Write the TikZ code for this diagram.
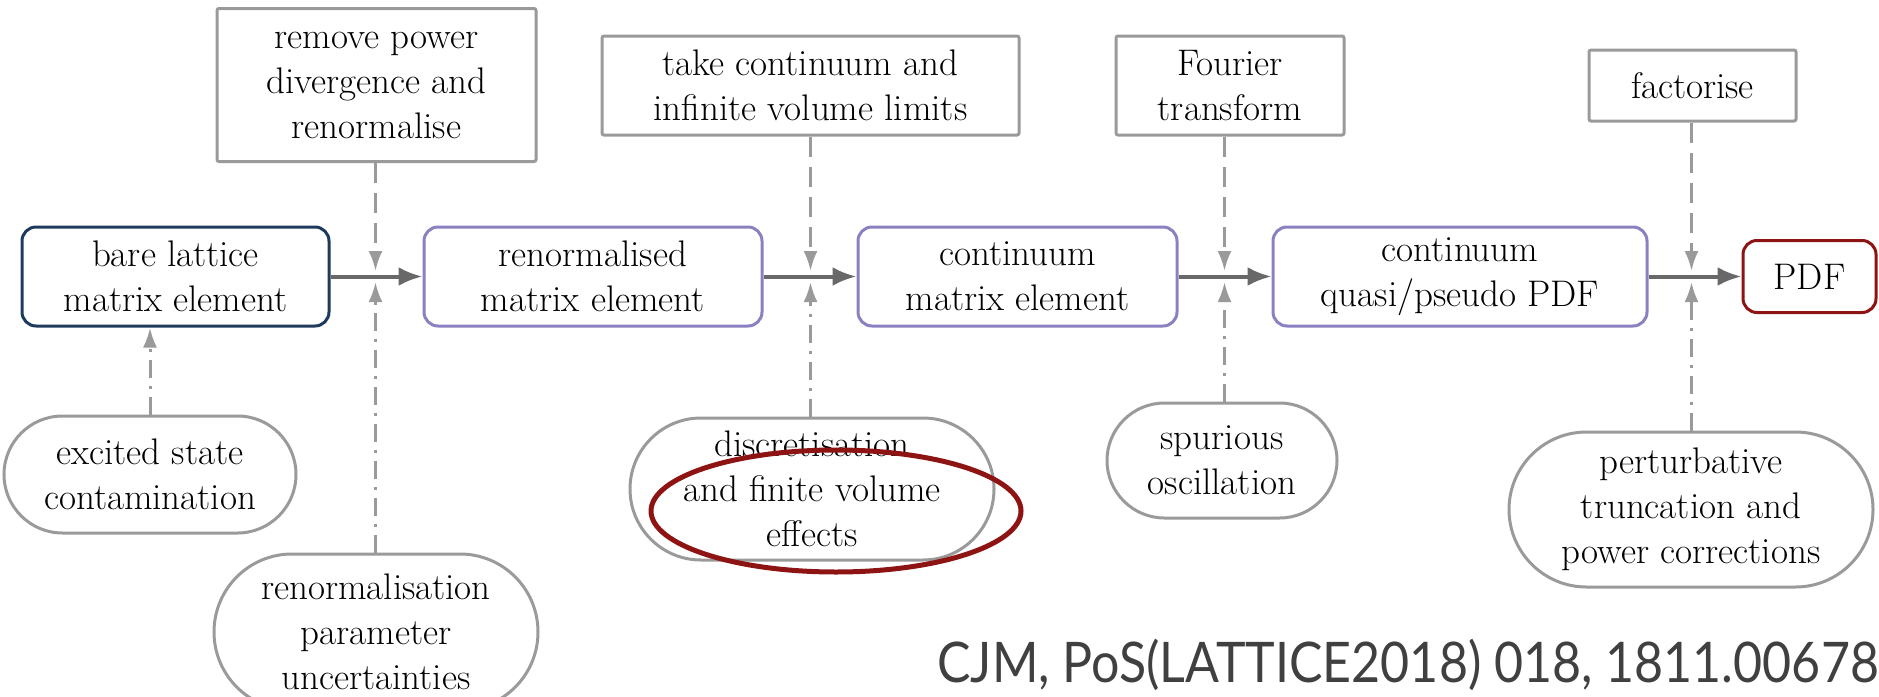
\documentclass[tikz,border=0pt]{standalone}
\usepackage{fontspec}
\newfontfamily\citefont{Lato}
\usepackage{tikz}
\usetikzlibrary{positioning, arrows.meta, shapes.misc, shapes.geometric}

\definecolor{barecol}{HTML}{1E3A5C}
\definecolor{stagecol}{HTML}{8C80C0}
\definecolor{pdfcol}{HTML}{8E1414}
\definecolor{sidegray}{HTML}{9A9A9A}
\definecolor{flowgray}{HTML}{686868}
\definecolor{citegray}{HTML}{404040}

\begin{document}
\begin{tikzpicture}[x=0.5pt, y=-0.5pt,
    every node/.style={font=\fontsize{18.5}{22.5}\selectfont, align=center, inner sep=2pt},
    stage/.style={draw=stagecol, line width=1.5pt, rounded corners=7pt,
                  minimum height=49.5pt},
    task/.style={draw=sidegray, line width=1.5pt, rounded corners=1pt},
    error/.style={draw=sidegray, line width=1.5pt, rounded rectangle},
    flow/.style={-{Latex[length=12pt, width=9.5pt]}, draw=flowgray, line width=2pt},
    fix/.style={-{Latex[length=10pt, width=7pt]}, draw=sidegray, line width=1.5pt,
                dash pattern=on 10pt off 5pt},
    err/.style={-{Latex[length=10pt, width=7pt]}, draw=sidegray, line width=1.5pt,
                dash pattern=on 9pt off 4pt on 1.5pt off 4pt}
  ]
  \useasboundingbox (0,0) rectangle (1879,696);

  % main chain
  \node[stage, draw=barecol, minimum width=153.5pt] (bare) at (175.5,276.5)
    {bare lattice\\matrix element};
  \node[stage, minimum width=169pt] (renorm) at (593,276.5)
    {renormalised\\matrix element};
  \node[stage, minimum width=159.5pt] (contme) at (1017.5,276.5)
    {continuum\\matrix element};
  \node[stage, minimum width=187pt] (quasi) at (1460,276.5)
    {continuum\\quasi/pseudo PDF};
  \node[stage, draw=pdfcol, minimum width=66.5pt, minimum height=36pt] (pdf) at (1809.5,276.5)
    {PDF};

  % junctions on the chain
  \coordinate (j1t) at (375.5,271);  \coordinate (j1b) at (375.5,282);
  \coordinate (j2t) at (810.5,271);  \coordinate (j2b) at (810.5,282);
  \coordinate (j3t) at (1224.5,271); \coordinate (j3b) at (1224.5,282);
  \coordinate (j4t) at (1691.5,271); \coordinate (j4b) at (1691.5,282);

  % steps taken
  \node[task, minimum width=159.5pt, minimum height=76.5pt] (power) at (376.5,85)
    {remove power\\divergence and\\renormalise};
  \node[task, minimum width=208.5pt, minimum height=49.5pt] (limits) at (810.5,85.5)
    {take continuum and\\infinite volume limits};
  \node[task, minimum width=114pt, minimum height=49.5pt] (fourier) at (1230,85.5)
    {Fourier\\transform};
  \node[task, minimum width=103.5pt, minimum height=35.5pt] (factor) at (1692.5,85.5)
    {factorise};

  % sources of error
  \node[error, minimum width=150pt, minimum height=58.5pt] (excited) at (150,474.5)
    {excited state\\contamination};
  \node[error, minimum width=166pt, minimum height=78pt] (zparam) at (376,632)
    {renormalisation\\parameter\\uncertainties};
  \node[error, minimum width=186pt, minimum height=71pt] (discr) at (812,489)
    {discretisation\\and finite volume\\effects};
  \node[error, minimum width=119pt, minimum height=57.5pt] (spur) at (1222,460.5)
    {spurious\\oscillation};
  \node[error, minimum width=186pt, minimum height=77.5pt] (pert) at (1691,509.5)
    {perturbative\\truncation and\\power corrections};

  \draw[flow] (bare) -- (renorm);
  \draw[flow] (renorm) -- (contme);
  \draw[flow] (contme) -- (quasi);
  \draw[flow] (quasi) -- (pdf);

  \draw[fix] (power.south -| j1t) -- (j1t);
  \draw[fix] (limits.south -| j2t) -- (j2t);
  \draw[fix] (fourier.south -| j3t) -- (j3t);
  \draw[fix] (factor.south -| j4t) -- (j4t);

  \draw[err] (excited.north) -- (excited.north |- bare.south);
  \draw[err] (zparam.north -| j1b) -- (j1b);
  \draw[err] (discr.north -| j2b) -- (j2b);
  \draw[err] (spur.north -| j3b) -- (j3b);
  \draw[err] (pert.north -| j4b) -- (j4b);

  % highlight
  \node[draw=pdfcol, line width=2.5pt, ellipse, minimum width=185pt, minimum height=61pt]
    (ring) at (836,511) {};

  \node[anchor=base west, text=citegray, inner sep=0pt, font=\citefont\fontsize{28}{30}\selectfont]
    (cite) at (937,682) {\scalebox{0.895}[1]{CJM, PoS(LATTICE2018) 018, 1811.00678}};
\end{tikzpicture}
\end{document}
